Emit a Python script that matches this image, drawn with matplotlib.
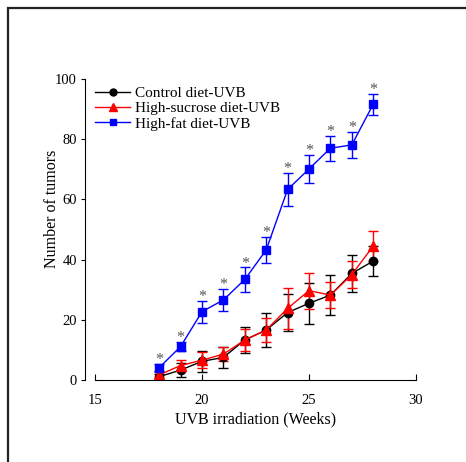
import matplotlib.pyplot as plt
from matplotlib.lines import Line2D
from matplotlib.patches import Rectangle

plt.rcParams["font.family"] = ["Liberation Serif", "DejaVu Serif"]
plt.rcParams["font.size"] = 10.5

weeks = [18, 19, 20, 21, 22, 23, 24, 25, 26, 27, 28]

control_mean = [1.1, 3.3, 6.2, 7.5, 13.3, 16.6, 22.4, 25.5, 28.2, 35.4, 39.5]
control_err = [1.0, 2.2, 3.6, 3.5, 4.4, 5.5, 6.2, 6.8, 6.7, 6.0, 5.0]

sucrose_mean = [1.7, 4.8, 6.6, 8.6, 13.3, 16.6, 23.8, 29.7, 28.2, 35.0, 44.5]
sucrose_err = [1.0, 1.7, 2.6, 2.4, 3.5, 3.9, 6.8, 6.0, 4.4, 4.4, 5.1]

fat_mean = [4.1, 11.1, 22.7, 26.6, 33.4, 43.2, 63.3, 70.1, 77.0, 78.1, 91.6]
fat_err = [1.2, 1.5, 3.7, 3.7, 4.0, 4.2, 5.5, 4.8, 4.2, 4.4, 3.4]

labels = ["Control diet-UVB", "High-sucrose diet-UVB", "High-fat diet-UVB"]

fig = plt.figure(figsize=(4.66, 4.62), dpi=100)
ax = fig.add_axes([95 / 466, 82 / 462, 321 / 466, 301 / 462])

# outer frame (runs off the right and bottom edges)
fig.add_artist(Rectangle((8 / 466, -0.2), 1.5, 1.2 - 8 / 462,
                         transform=fig.transFigure, fill=False,
                         edgecolor="#222222", linewidth=1.6))

series = [
    (control_mean, control_err, "black", "o", 6),
    (sucrose_mean, sucrose_err, "red", "^", 7),
    (fat_mean, fat_err, "blue", "s", 6),
]
handles = []
for (mean, err, color, marker, ms), label in zip(series, labels):
    ax.errorbar(weeks, mean, yerr=err, color=color, marker=marker,
                markersize=ms, linewidth=1.0, elinewidth=1.0, capsize=3.5,
                capthick=1.0)
    handles.append(Line2D([], [], color=color, marker=marker,
                          markersize=ms - 1, linewidth=1.0, label=label))

for w, m, e in zip(weeks, fat_mean, fat_err):
    ax.annotate("*", (w, m + e), xytext=(0, -3), textcoords="offset points",
                ha="center", va="bottom", color="#555555", fontsize=11.5)

ax.set_xlim(15, 30)
ax.set_ylim(0, 100)
ax.set_xticks([15, 20, 25, 30])
ax.set_yticks([0, 20, 40, 60, 80, 100])

ax.spines["top"].set_visible(False)
ax.spines["right"].set_visible(False)
ax.spines["left"].set_position(("outward", 7))
ax.tick_params(axis="x", direction="in", length=4, pad=10)
ax.tick_params(axis="y", direction="out", length=3, pad=3)

ax.set_xlabel("UVB irradiation (Weeks)", labelpad=3, fontsize=11.5)
ax.set_ylabel("Number of tumors", fontsize=11.5)
ax.yaxis.set_label_coords(-0.11, 0.57)

ax.legend(handles=handles, loc="upper left", frameon=False,
          bbox_to_anchor=(0.0, 0.975), handlelength=2.3,
          handletextpad=0.3, labelspacing=0.1, borderaxespad=0.0,
          borderpad=0.0, fontsize=11)

fig.savefig("out.png", dpi=100)
